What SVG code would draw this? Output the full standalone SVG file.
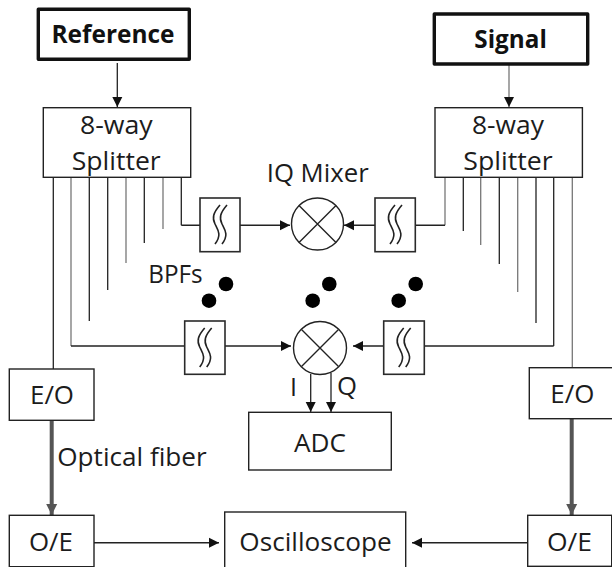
<svg xmlns="http://www.w3.org/2000/svg" width="612" height="567" viewBox="0 0 612 567">
<style>
text{font-family:"Open Sans","Liberation Sans",sans-serif;font-size:25px;fill:#1c1c1c;text-anchor:start}
.b{font-weight:700;fill:#111}
.box{fill:#fff;stroke:#222;stroke-width:1.4}
.src{fill:#fff;stroke:#111;stroke-width:3.4;stroke-linejoin:round}
.f{fill:#fff;stroke:#2a2a2a;stroke-width:1.6}
.sq{fill:none;stroke:#222;stroke-width:1.6}
.c{fill:none;stroke:#222;stroke-width:1.3}
.g{fill:none;stroke:#777;stroke-width:1.3}
.k{fill:none;stroke:#222;stroke-width:1.5}
.t{fill:none;stroke:#555;stroke-width:4}
.d{fill:#000}
</style>
<defs>
<marker id="a" markerUnits="userSpaceOnUse" markerWidth="11" markerHeight="12" viewBox="0 0 11 12" refX="10" refY="6" orient="auto"><path d="M0 1L10 6L0 11Z" fill="#111"/></marker>
<marker id="h" markerUnits="userSpaceOnUse" markerWidth="12" markerHeight="13" viewBox="0 0 12 13" refX="11" refY="6.500" orient="auto"><path d="M0 1L11 6.500L0 12Z" fill="#555"/></marker>
<g id="squig"><path class="sq" d="M20 7C13 15 12 20 15 26S22 37 15 46"/><path class="sq" d="M27 7C20 15 19 20 22 26S29 37 22 46"/></g>
<g id="mix"><path d="M-18.500 -18.500L18.500 18.500M18.500 -18.500L-18.500 18.500" fill="none" stroke="#222" stroke-width="1.4"/></g>
</defs>
<g id="connectors">
<path class="c" d="M117.300 63V107" marker-end="url(#a)"/>
<path class="g" d="M509 64V107" marker-end="url(#a)"/>
<path class="c" d="M53.300 177V369"/>
<path class="g" d="M71 177V346"/>
<path class="k" d="M71 346H291" marker-end="url(#a)"/>
<path class="c" d="M89.300 177V321"/>
<path class="c" d="M107.700 177V290"/>
<path class="g" d="M126 177V263"/>
<path class="c" d="M144.300 177V243"/>
<path class="g" d="M163 177V229"/>
<path class="c" d="M181.300 177V225.300"/>
<path class="k" d="M181.300 225.300H290" marker-end="url(#a)"/>
<path class="g" d="M445 177V225.300"/>
<path class="k" d="M445 225.300H344" marker-end="url(#a)"/>
<path class="c" d="M463.300 177V231"/>
<path class="g" d="M480.700 177V245"/>
<path class="c" d="M499.300 177V264"/>
<path class="g" d="M517.700 177V292"/>
<path class="c" d="M536 177V323"/>
<path class="c" d="M553.700 177V346"/>
<path class="k" d="M553.700 346H353" marker-end="url(#a)"/>
<path class="g" d="M572.300 177V368"/>
<path class="c" d="M310.700 374V412" marker-end="url(#a)"/>
<path class="c" d="M331 373V412" marker-end="url(#a)"/>
<path class="t" d="M51.700 420V515" marker-end="url(#h)"/>
<path class="t" d="M571.700 419V515" marker-end="url(#h)"/>
<path class="k" d="M94 542.700H219" marker-end="url(#a)"/>
<path class="k" d="M528 542.700H412" marker-end="url(#a)"/>
</g>
<g id="reference"><rect class="src" x="38.300" y="9.300" width="151" height="50"/><text class="b" x="51.500" y="43.300" textLength="123" lengthAdjust="spacingAndGlyphs">Reference</text></g>
<g id="signal"><rect class="src" x="434.300" y="14" width="153.400" height="50"/><text class="b" x="474.300" y="48.300" textLength="72.500" lengthAdjust="spacingAndGlyphs">Signal</text></g>
<g id="splitter-left"><rect class="box" x="43.300" y="107.700" width="147.400" height="69.600"/><text x="80" y="134.300" textLength="72.700" lengthAdjust="spacingAndGlyphs">8-way</text><text x="71.700" y="170" textLength="89" lengthAdjust="spacingAndGlyphs">Splitter</text></g>
<g id="splitter-right"><rect class="box" x="435" y="107.700" width="147.400" height="69.600"/><text x="472" y="134.300" textLength="72" lengthAdjust="spacingAndGlyphs">8-way</text><text x="463.300" y="170" textLength="89.400" lengthAdjust="spacingAndGlyphs">Splitter</text></g>
<g id="iq-mixer-label"><text x="266.700" y="182.300" textLength="102" lengthAdjust="spacingAndGlyphs">IQ Mixer</text></g>
<g id="filter-1"><rect class="f" x="200" y="198" width="40" height="53.700"/><use href="#squig" x="200" y="198"/></g>
<g id="filter-2"><rect class="f" x="375" y="198" width="40.300" height="53.700"/><use href="#squig" x="375" y="198"/></g>
<g id="filter-3"><rect class="f" x="184.700" y="321" width="40.300" height="53.300"/><use href="#squig" x="184.700" y="321"/></g>
<g id="filter-4"><rect class="f" x="383.700" y="321" width="40.600" height="53.300"/><use href="#squig" x="383.700" y="321"/></g>
<g id="mixer-1"><circle class="box" cx="317.500" cy="224" r="26"/><use href="#mix" x="317.500" y="224"/></g>
<g id="mixer-2"><circle class="box" cx="320" cy="348" r="26.500"/><use href="#mix" x="320" y="348"/></g>
<g id="bpfs-label"><text x="148.300" y="283.300" textLength="54.400" lengthAdjust="spacingAndGlyphs">BPFs</text></g>
<g id="dots"><circle class="d" cx="226" cy="284" r="7.300"/><circle class="d" cx="209" cy="300.700" r="7.300"/><circle class="d" cx="329.300" cy="284" r="7.300"/><circle class="d" cx="312.700" cy="300.700" r="7.300"/><circle class="d" cx="415.700" cy="284" r="7.300"/><circle class="d" cx="398.700" cy="300.700" r="7.300"/></g>
<g id="iq-labels"><text x="290" y="396">I</text><text x="337" y="395" textLength="20" lengthAdjust="spacingAndGlyphs">Q</text></g>
<g id="adc"><rect class="box" x="248.700" y="412.300" width="142.600" height="57.700"/><text x="294" y="451.700" textLength="52" lengthAdjust="spacingAndGlyphs">ADC</text></g>
<g id="eo-left"><rect class="box" x="9.300" y="369" width="84.700" height="51.300"/><text x="30" y="404.300" textLength="44" lengthAdjust="spacingAndGlyphs">E/O</text></g>
<g id="eo-right"><rect class="box" x="529.300" y="367.700" width="86" height="51"/><text x="550.300" y="403.300" textLength="44" lengthAdjust="spacingAndGlyphs">E/O</text></g>
<g id="optical-fiber-label"><text x="57.300" y="465.700" textLength="149.400" lengthAdjust="spacingAndGlyphs">Optical fiber</text></g>
<g id="oe-left"><rect class="box" x="9.300" y="515.300" width="84.700" height="51.400"/><text x="29" y="550.700" textLength="44" lengthAdjust="spacingAndGlyphs">O/E</text></g>
<g id="oe-right"><rect class="box" x="527.700" y="515.300" width="84" height="51"/><text x="547" y="550.700" textLength="45" lengthAdjust="spacingAndGlyphs">O/E</text></g>
<g id="oscilloscope"><rect class="box" x="224.700" y="512" width="181" height="57"/><text x="239.300" y="550.700" textLength="152.400" lengthAdjust="spacingAndGlyphs">Oscilloscope</text></g>
</svg>
